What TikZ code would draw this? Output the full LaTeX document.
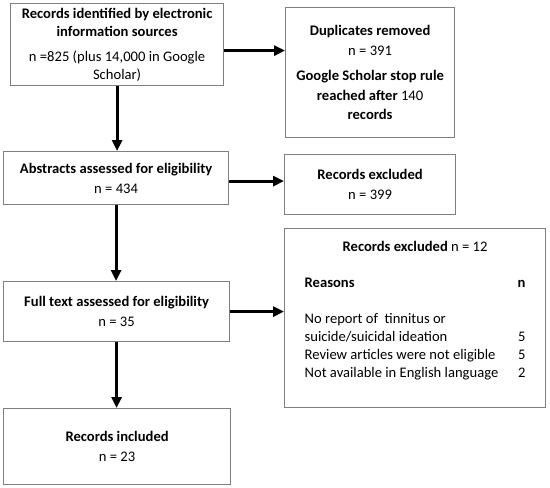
\documentclass[tikz,border=0pt]{standalone}
\usepackage{fontspec}
\setmainfont{Carlito}
\usetikzlibrary{arrows.meta,calc,positioning}
\definecolor{BoxGray}{HTML}{7F7F7F}
\tikzset{
  flowbox/.style={draw=BoxGray,line width=1.2pt,fill=white,align=center,
    inner sep=0pt,anchor=north west,font=\fontsize{14.6}{18}\selectfont},
  flowarrow/.style={line width=3pt,-{Triangle[length=11pt,width=10pt]}}
}

\begin{document}
\begin{tikzpicture}[x=1pt,y=-1pt]
  \useasboundingbox (0,0) rectangle (550,488);
  \node[flowbox,minimum width=213,minimum height=82] (src) at (10,3)
    {\textbf{Records identified by electronic}\\ \textbf{information sources}\\[7pt]
     n =825 (plus 14,000 in Google\\ Scholar)};
  \node[flowbox,minimum width=169,minimum height=130,font=\fontsize{14.6}{19.5}\selectfont] (dup) at (285,7)
    {\textbf{Duplicates removed}\\ n = 391\\[6pt]
     \textbf{Google Scholar stop rule}\\ \textbf{reached after} 140\\ \textbf{records}};
  \node[flowbox,minimum width=225,minimum height=53] (abs) at (3,151)
    {\textbf{Abstracts assessed for eligibility}\\[2pt] n = 434};
  \node[flowbox,minimum width=171,minimum height=60] (exc1) at (284,154)
    {\textbf{Records excluded}\\[2pt] n = 399};
  \node[flowbox,minimum width=226,minimum height=60] (full) at (3,281)
    {\textbf{Full text assessed for eligibility}\\[2pt] n = 35};
  \node[flowbox,minimum width=261,minimum height=179] (exc2) at (284,228)
    {\begin{tabular}{@{}p{213pt}@{}r@{}}
     \multicolumn{2}{c}{\textbf{Records excluded} n = 12}\\[18pt]
     \textbf{Reasons} & \textbf{n}\\[18pt]
     No report of\ \ tinnitus or & \\
     suicide/suicidal ideation & 5\\
     Review articles were not eligible & 5\\
     Not available in English language & 2\\[14pt]
     \end{tabular}};
  \node[flowbox,minimum width=227,minimum height=76] (inc) at (3,408)
    {\textbf{Records included}\\[2pt] n = 23};

  \draw[flowarrow] ([yshift=-6pt]src.east) -- ([yshift=-6pt]src.east -| dup.west);
  \draw[flowarrow] (src.south) -- (src.south |- abs.north);
  \draw[flowarrow] ([yshift=-3pt]abs.east) -- ([yshift=-3pt]abs.east -| exc1.west);
  \draw[flowarrow] (abs.south) -- (abs.south |- full.north);
  \draw[flowarrow] (full.east) -- (full.east -| exc2.west);
  \draw[flowarrow] (full.south) -- (full.south |- inc.north);
\end{tikzpicture}
\end{document}
